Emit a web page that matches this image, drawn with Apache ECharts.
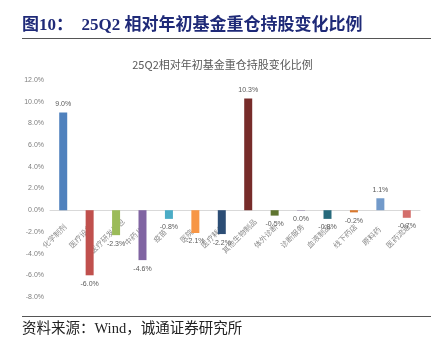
<!DOCTYPE html>
<html><head><meta charset="utf-8">
<script src="https://cdn.jsdelivr.net/npm/echarts@6/dist/echarts.min.js"></script>
<style>html,body{margin:0;padding:0;background:#fff}#c{width:445px;height:348px}</style>
</head><body><div id="c"></div>
<script>
const categories = ['化学制剂','医疗设备','医疗研发外包','中药Ⅱ','疫苗','医院','医疗耗材','其他生物制品','体外诊断','诊断服务','血液制品','线下药店','原料药','医药流通'];
const values = [9.0, -6.0, -2.3, -4.6, -0.8, -2.1, -2.2, 10.3, -0.5, -0.04, -0.8, -0.2, 1.1, -0.7];
const colors = ['#4F81BD','#C0504D','#9BBB59','#8064A2','#4BACC6','#F79646','#2C4D75','#772C2A','#5F7530','#8E7CA8','#276A7C','#D9782E','#729ACA','#D46F6C'];
const yTicks = {min: -8, max: 12, interval: 2};

const G = {left: 50, right: 25, top: 80, bottom: 51};
const plotH = 348 - G.top - G.bottom;
const zeroOffset = -plotH * (0 - yTicks.min) / (yTicks.max - yTicks.min);

const chart = echarts.init(document.getElementById('c'), null, {renderer: 'canvas'});
const fmt = v => { let s = v.toFixed(1); if (s === '-0.0') s = '0.0'; return s + '%'; };
chart.setOption({
  animation: false,
  title: {
    text: '25Q2相对年初基金重仓持股变化比例',
    left: 'center', top: 54,
    textStyle: {fontSize: 11, fontWeight: 'normal', color: '#595959', fontFamily: 'Noto Sans CJK SC'}
  },
  graphic: [
    {type: 'text', left: 22, top: 17, style: {text: '图10：  25Q2 相对年初基金重仓持股变化比例', font: 'bold 17px "Liberation Serif", "Noto Sans CJK SC"', fill: '#1F2A78'}},
    {type: 'line', shape: {x1: 22, y1: 38.5, x2: 431, y2: 38.5}, style: {stroke: '#555', lineWidth: 1}},
    {type: 'line', shape: {x1: 22, y1: 316.5, x2: 431, y2: 316.5}, style: {stroke: '#555', lineWidth: 1}},
    {type: 'text', left: 22, top: 322, style: {text: '资料来源：Wind，诚通证券研究所', font: '14.5px "Liberation Serif", "Noto Sans CJK SC"', fill: '#222'}}
  ],
  grid: {left: G.left, right: G.right, top: G.top, bottom: G.bottom, containLabel: false},
  xAxis: {
    type: 'category', data: categories,
    offset: zeroOffset,
    axisLine: {onZero: false, lineStyle: {color: '#D9D9D9'}},
    axisTick: {show: false},
    axisLabel: {rotate: 45, align: 'center', verticalAlign: 'middle', margin: 17, padding: [0, 25, 0, 0],
      fontSize: 7.5, color: '#8C8C8C', interval: 0, fontFamily: 'Noto Sans CJK SC'}
  },
  yAxis: {
    type: 'value', min: yTicks.min, max: yTicks.max, interval: yTicks.interval,
    axisLine: {show: false}, axisTick: {show: false}, splitLine: {show: false},
    axisLabel: {formatter: v => v.toFixed(1) + '%', fontSize: 7, color: '#7F7F7F', margin: 6}
  },
  series: [{
    type: 'bar', barWidth: 8, z: 1,
    data: values.map((v, i) => ({value: v, itemStyle: {color: colors[i]}, label: {position: v >= 0 ? 'top' : 'bottom'}})),
    label: {show: true, fontSize: 7, color: '#595959', distance: 5, formatter: p => fmt(p.value)}
  }]
});
</script></body></html>
